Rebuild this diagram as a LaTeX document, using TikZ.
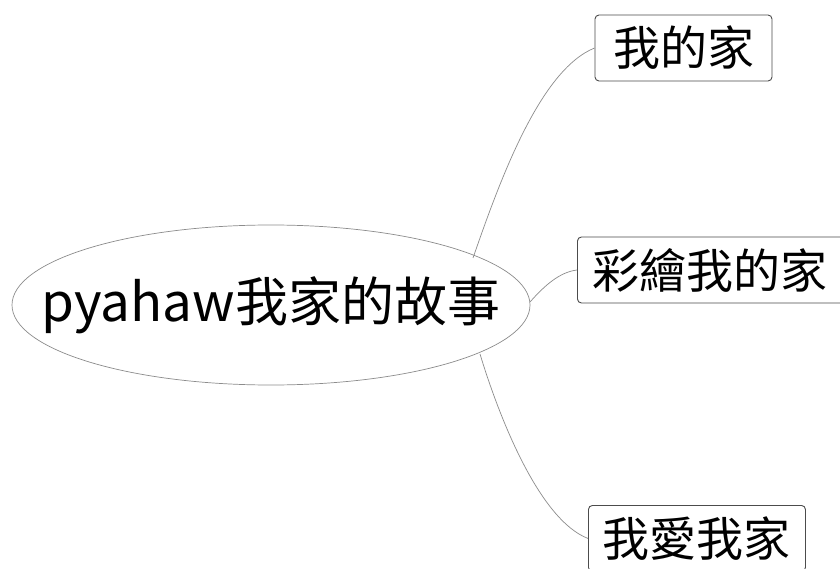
\documentclass[tikz,border=0pt]{standalone}
\usepackage{fontspec}
\setmainfont{Noto Sans CJK TC}
\newfontfamily\cjk{Noto Sans CJK TC}
\usetikzlibrary{shapes.geometric}
\begin{document}
\begin{tikzpicture}[x=1pt,y=-1pt,
  conn/.style={draw=black!45, line width=0.7pt},
  leaf/.style={draw=black!70, line width=0.9pt, rounded corners=4pt, inner sep=0pt,
    minimum height=66pt, font=\cjk\fontsize{47}{50}\selectfont, text=black}]
\useasboundingbox (0,0) rectangle (840,569);
\clip (0,0) rectangle (840,569);
\fill[white] (0,0) rectangle (840,569);
\node[ellipse, draw=black!45, line width=0.7pt, minimum width=518pt, minimum height=160pt, inner sep=0pt,
  font=\cjk\fontsize{53}{56}\selectfont] (root) at (271,305) {\makebox[300pt]{pyahaw我家的故事}};
\node[leaf, minimum width=177pt] (b1) at (683.5,48) {我的家};
\node[leaf, minimum width=290pt, anchor=west] (b2) at (577,270) {\hspace*{-25pt}彩繪我的家};
\node[leaf, minimum width=217pt, anchor=north west] (b3) at (588,505) {我愛我家};
\coordinate (s1) at (473,258);
\coordinate (s2) at (530,302);
\coordinate (s3) at (480,354);
\draw[conn] (s1) .. controls (500,180) and (540,70) .. (b1.west);
\draw[conn] (s2) .. controls (545,285) and (560,272) .. (b2.west);
\draw[conn] (s3) .. controls (500,420) and (540,520) .. (b3.west);
\end{tikzpicture}
\end{document}
